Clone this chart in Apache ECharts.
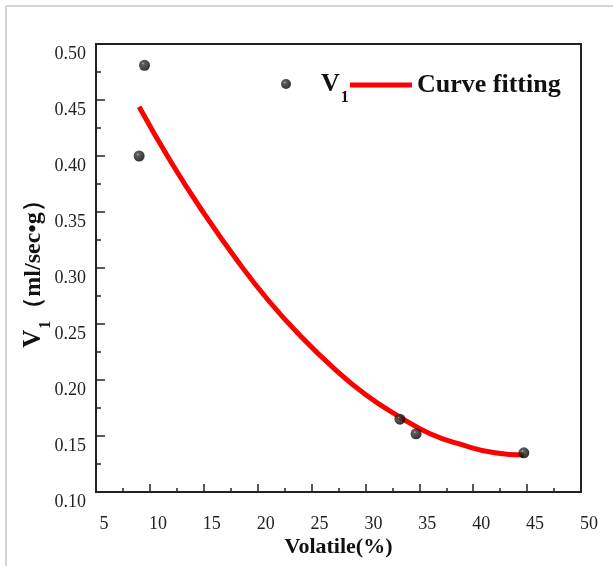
<!DOCTYPE html>
<html>
<head>
<meta charset="utf-8">
<script src="https://cdn.jsdelivr.net/npm/echarts@6/dist/echarts.min.js"></script>
<style>
html,body{margin:0;padding:0;background:#fff;}
#chart{width:613px;height:566px;}
</style>
</head>
<body>
<div id="chart"></div>
<script>
// Measured data points (Volatile %, V1 ml/sec·g)
var volatile = [9.0, 9.5, 33.2, 34.7, 44.7];
var v1 = [0.400, 0.481, 0.165, 0.152, 0.135];

// Fitted curve
var fitX = [9.0, 12, 15, 18, 21, 24, 27, 30, 33, 36, 39, 42, 44.7];
var fitY = [0.444, 0.394, 0.349, 0.308, 0.271, 0.239, 0.211, 0.187, 0.168, 0.152, 0.142, 0.135, 0.133];

var xTicks = [5, 10, 15, 20, 25, 30, 35, 40, 45, 50];
var yTicks = [0.10, 0.15, 0.20, 0.25, 0.30, 0.35, 0.40, 0.45, 0.50];

var serif = '"Liberation Serif", "Times New Roman", serif';

var scatterData = volatile.map(function (x, i) { return [x, v1[i]]; });
var fitData = fitX.map(function (x, i) { return [x, fitY[i]]; });

var ballColor = {
  type: 'radial', x: 0.38, y: 0.35, r: 0.65,
  colorStops: [
    { offset: 0, color: '#d0d0d0' },
    { offset: 0.15, color: '#3a3a3a' },
    { offset: 1, color: '#000' }
  ]
};

var legendRich = {
  v: { fontFamily: serif, fontWeight: 'bold', fontSize: 26, color: '#111' },
  vp: { fontFamily: serif, fontWeight: 'bold', fontSize: 26, color: '#111', padding: [0, 0, 0, 25] },
  s: { fontFamily: serif, fontWeight: 'bold', fontSize: 16, color: '#111', padding: [28, 0, 0, 1] }
};

var chart = echarts.init(document.getElementById('chart'), null, { renderer: 'canvas' });
chart.setOption({
  backgroundColor: '#fff',
  animation: false,
  graphic: [
    { type: 'line', shape: { x1: 6, y1: 6, x2: 613, y2: 6 }, style: { stroke: '#d4d4d4', lineWidth: 2 } },
    { type: 'line', shape: { x1: 6, y1: 6, x2: 6, y2: 566 }, style: { stroke: '#d4d4d4', lineWidth: 2 } }
  ],
  grid: {
    left: 96, top: 44, right: 32, bottom: 74,
    show: true, borderColor: '#222', borderWidth: 2, backgroundColor: 'transparent'
  },
  legend: [
    {
      left: 276, top: 66,
      itemWidth: 10, itemHeight: 10,
      data: [{ name: 'V1', icon: 'circle' }],
      textStyle: { rich: legendRich },
      formatter: function () { return '{vp|V}{s|1}'; }
    },
    {
      left: 345, top: 67,
      itemWidth: 62, itemHeight: 5,
      data: [{ name: 'Curve fitting', icon: 'rect' }],
      textStyle: { rich: legendRich },
      formatter: function (name) { return '{v|' + name + '}'; }
    }
  ],
  xAxis: {
    type: 'value', min: xTicks[0], max: xTicks[xTicks.length - 1], interval: 5,
    name: 'Volatile(%)', nameLocation: 'middle', nameGap: 44, nameMoveOverlap: false,
    nameTextStyle: { fontFamily: serif, fontWeight: 'bold', fontSize: 22, color: '#111' },
    axisLine: { lineStyle: { color: '#222', width: 2 } },
    axisTick: { inside: true, length: 8, lineStyle: { color: '#222', width: 1.5 } },
    minorTick: { show: true, splitNumber: 2, length: 4, lineStyle: { color: '#222', width: 1.5 } },
    splitLine: { show: false },
    axisLabel: { fontFamily: serif, fontSize: 18, color: '#222', margin: 23, padding: [0, 0, 0, 16] }
  },
  yAxis: {
    type: 'value', min: yTicks[0], max: yTicks[yTicks.length - 1], interval: 0.05,
    name: '{v|V}{s|1}{t|（ml/sec•g）}', nameLocation: 'middle', nameGap: 42, nameRotate: 90,
    nameMoveOverlap: false,
    nameTextStyle: {
      rich: {
        v: { fontFamily: serif, fontWeight: 'bold', fontSize: 25, color: '#111' },
        s: { fontFamily: serif, fontWeight: 'bold', fontSize: 16, color: '#111', padding: [24, 0, 0, 1] },
        t: { fontFamily: serif, fontWeight: 'bold', fontSize: 24, color: '#111' }
      }
    },
    axisLine: { lineStyle: { color: '#222', width: 2 } },
    axisTick: { inside: true, length: 9, lineStyle: { color: '#222', width: 1.5 } },
    minorTick: { show: true, splitNumber: 2, length: 5, lineStyle: { color: '#222', width: 1.5 } },
    splitLine: { show: false },
    axisLabel: {
      fontFamily: serif, fontSize: 18, color: '#222', margin: 10, verticalAlign: 'top', padding: [1, 0, 0, 0],
      formatter: function (v) { return v.toFixed(2); }
    }
  },
  series: [
    {
      name: 'Curve fitting', type: 'line', data: fitData, smooth: true,
      symbol: 'none', lineStyle: { color: '#ff0000', width: 5 },
      itemStyle: { color: '#ff0000' }, z: 2
    },
    {
      name: 'V1', type: 'scatter', data: scatterData, symbol: 'circle', symbolSize: 11,
      itemStyle: { color: ballColor }, z: 3
    }
  ]
});
</script>
</body>
</html>
